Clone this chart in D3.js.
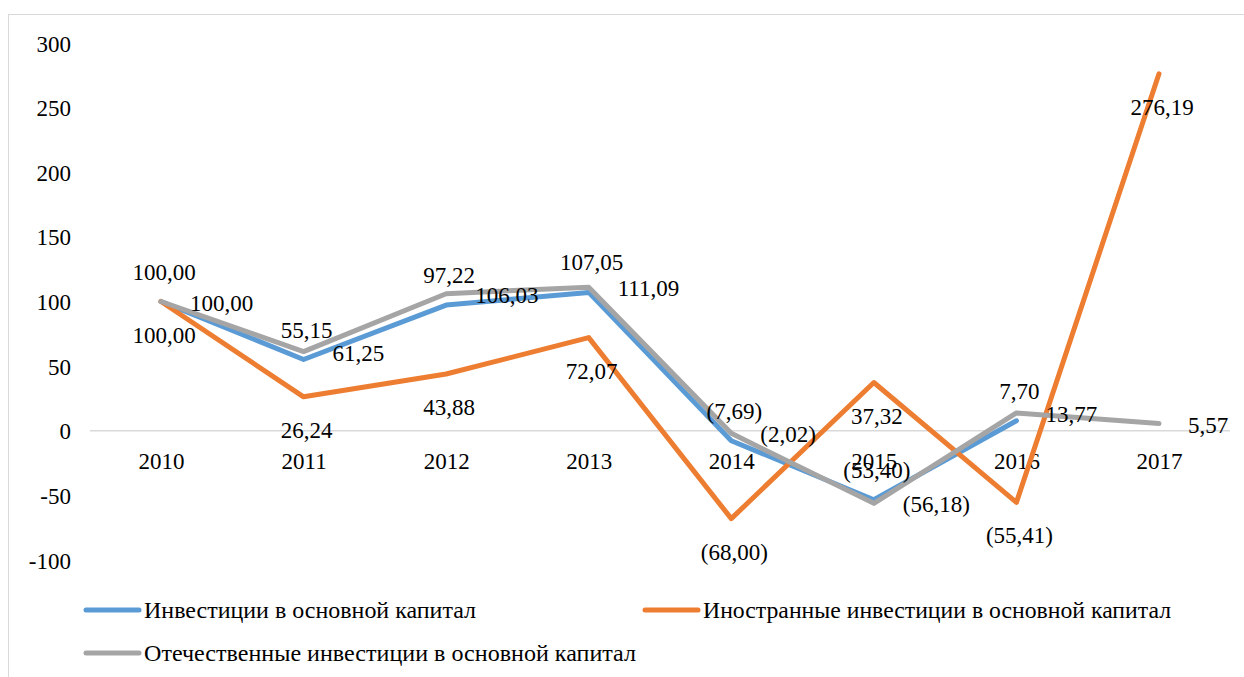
<!doctype html>
<html>
<head>
<meta charset="utf-8">
<title></title>
<script src="https://cdn.jsdelivr.net/npm/d3@7"></script>
<style>
	body { margin: 0; background: #fff; }
</style>
</head>
<body>
<div id="main"></div>
<script>
	// данные
	var years = ['2010', '2011', '2012', '2013', '2014', '2015', '2016', '2017'];
	var total = [100.00, 55.15, 97.22, 107.05, -7.69, -53.40, 7.70, null];
	var foreign = [100.00, 26.24, 43.88, 72.07, -68.00, 37.32, -55.41, 276.19];
	var domestic = [100.00, 61.25, 106.03, 111.09, -2.02, -56.18, 13.77, 5.57];
	var yTicks = [-100, -50, 0, 50, 100, 150, 200, 250, 300];
	var seriesNames = ['Инвестиции в основной капитал', 'Иностранные инвестиции в основной капитал', 'Отечественные инвестиции в основной капитал'];

	var width = 1244, height = 677;
	var serif = "'Liberation Serif'";

	var svg = d3.select('#main').append('svg')
		.attr('width', width)
		.attr('height', height);

	// рамка
	svg.append('rect')
		.attr('x', 8.5).attr('y', 14.5)
		.attr('width', 1250).attr('height', 700)
		.style('fill', 'none')
		.style('stroke', '#d9d9d9')
		.style('stroke-width', 1);

	var x = d3.scalePoint().domain(years).range([161, 1159]);
	var y = d3.scaleLinear().domain([-100, 300]).range([560, 43]);

	// ось Y
	var yAxis = svg.append('g')
		.attr('transform', 'translate(71,0)')
		.call(d3.axisLeft(y).tickValues(yTicks).tickSize(0).tickPadding(0).tickFormat(function(d) { return d < 0 ? '-' + (-d) : d; }));
	yAxis.select('.domain').remove();
	yAxis.selectAll('text').style('font-size', '23px').style('font-family', serif).style('fill', '#000').attr('dy', '0.35em');

	// нулевая линия
	svg.append('line')
		.attr('x1', 90).attr('x2', 1230)
		.attr('y1', y(0)).attr('y2', y(0))
		.style('stroke', '#d9d9d9')
		.style('stroke-width', 1.5);

	// подписи годов
	var xAxis = svg.append('g')
		.attr('transform', 'translate(0,' + y(0) + ')')
		.call(d3.axisBottom(x).tickSize(0).tickPadding(22));
	xAxis.select('.domain').remove();
	xAxis.selectAll('text').style('font-size', '23px').style('font-family', serif).style('fill', '#000');

	var series = [
		{ name: seriesNames[0], values: total, color: '#5b9bd5', pos: 'above' },
		{ name: seriesNames[1], values: foreign, color: '#ed7d31', pos: 'below' },
		{ name: seriesNames[2], values: domestic, color: '#a5a5a5', pos: 'right' }
	];

	var line = d3.line()
		.defined(function(d) { return d.v !== null; })
		.x(function(d) { return x(d.year); })
		.y(function(d) { return y(d.v); });

	function toPoints(values) {
		return years.map(function(yr, i) { return { year: yr, v: values[i] }; });
	}

	function fmt(v) {
		var s = Math.abs(v).toFixed(2).replace('.', ',');
		return v < 0 ? '(' + s + ')' : s;
	}

	// линии
	series.forEach(function(s) {
		svg.append('path')
			.datum(toPoints(s.values))
			.attr('d', line)
			.style('fill', 'none')
			.style('stroke', s.color)
			.style('stroke-width', 5)
			.style('stroke-linejoin', 'round')
			.style('stroke-linecap', 'round');
	});

	// подписи данных
	series.forEach(function(s) {
		var pts = toPoints(s.values).filter(function(d) { return d.v !== null; });
		svg.append('g').selectAll('text')
			.data(pts)
			.enter().append('text')
			.attr('x', function(d) { return s.pos === 'right' ? x(d.year) + 29 : x(d.year) + 3; })
			.attr('y', function(d) {
				if (s.pos === 'above') return y(d.v) - 30;
				if (s.pos === 'below') return y(d.v) + 33;
				return y(d.v) + 1;
			})
			.attr('dy', '0.35em')
			.attr('text-anchor', s.pos === 'right' ? 'start' : 'middle')
			.style('font-size', '23px')
			.style('font-family', serif)
			.style('fill', '#000')
			.text(function(d) { return fmt(d.v); });
	});

	// легенда
	var legendItems = [
		{ s: series[0], lx: 86, ly: 610, tl: 332 },
		{ s: series[1], lx: 645, ly: 610, tl: 468 },
		{ s: series[2], lx: 86, ly: 653, tl: 492 }
	];
	var legend = svg.append('g');
	legendItems.forEach(function(it) {
		legend.append('line')
			.attr('x1', it.lx).attr('x2', it.lx + 53)
			.attr('y1', it.ly).attr('y2', it.ly)
			.style('stroke', it.s.color)
			.style('stroke-width', 5)
			.style('stroke-linecap', 'round');
		legend.append('text')
			.attr('x', it.lx + 58)
			.attr('y', it.ly)
			.attr('dy', '0.35em')
			.attr('textLength', it.tl)
			.attr('lengthAdjust', 'spacingAndGlyphs')
			.style('font-size', '23px')
			.style('font-family', serif)
			.style('fill', '#000')
			.text(it.s.name);
	});
</script>
</body>
</html>
